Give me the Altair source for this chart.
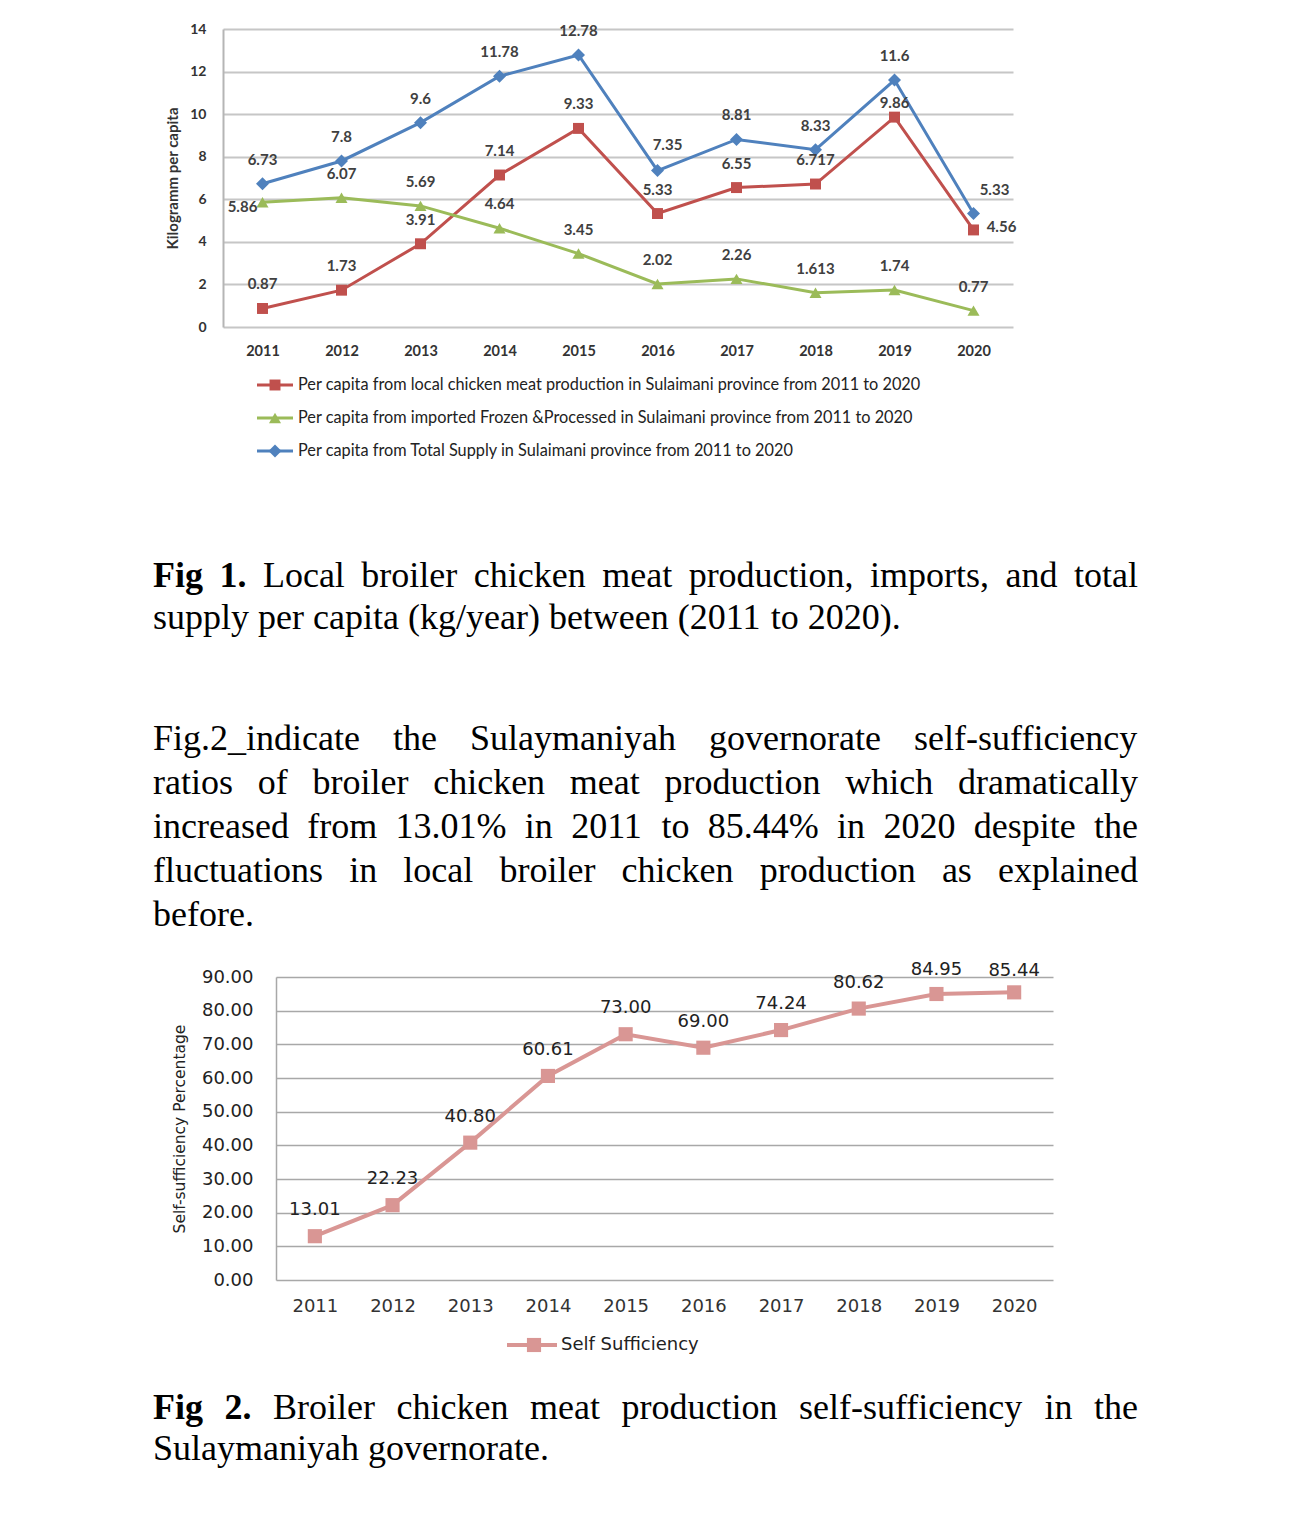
import altair as alt
import pandas as pd

# ---------------- data ----------------
years = [2011, 2012, 2013, 2014, 2015, 2016, 2017, 2018, 2019, 2020]
local_prod = [0.87, 1.73, 3.91, 7.14, 9.33, 5.33, 6.55, 6.717, 9.86, 4.56]
imported = [5.86, 6.07, 5.69, 4.64, 3.45, 2.02, 2.26, 1.613, 1.74, 0.77]
total_supply = [6.73, 7.8, 9.6, 11.78, 12.78, 7.35, 8.81, 8.33, 11.6, 5.33]
self_suff = [13.01, 22.23, 40.80, 60.61, 73.00, 69.00, 74.24, 80.62, 84.95, 85.44]

series_keys = ["local", "imported", "total"]
series_names = [
    "Per capita from local chicken meat production in Sulaimani province from 2011 to 2020",
    "Per capita from imported Frozen &Processed in Sulaimani province from 2011 to 2020",
    "Per capita from Total Supply in Sulaimani province from 2011 to 2020",
]
y1_ticks = [0, 2, 4, 6, 8, 10, 12, 14]
y2_ticks = [0, 10, 20, 30, 40, 50, 60, 70, 80, 90]

caption1 = ["Fig 1. Local broiler chicken meat production, imports, and total",
            "supply per capita (kg/year) between (2011 to 2020)."]
paragraph = [
    "Fig.2_indicate the Sulaymaniyah governorate self-sufficiency",
    "ratios of broiler chicken meat production which dramatically",
    "increased from 13.01% in 2011 to 85.44% in 2020 despite the",
    "fluctuations in local broiler chicken production as explained",
    "before.",
]
caption2 = ["Fig 2. Broiler chicken meat production self-sufficiency in the",
            "Sulaymaniyah governorate."]
legend2_name = "Self Sufficiency"

# ---------------- styles ----------------
colors = ["#C0504D", "#9BBB59", "#4F81BD"]
shapes = ["square", "triangle-up", "diamond"]
sizes = [120, 170, 130]
pink = "#D99694"
W1, H1 = 790, 298
W2, H2 = 777, 303
SH = 53            # figure 1 sits this many pixels left of figure 2
SERIF = "Liberation Serif"
FS = 36            # body text size
TEXT_X0 = -123     # left edge of the text column, relative to the plot origins
TEXT_W = 985       # width of the justified text column

# Times / Liberation Serif advance widths (per 1000 em), used to justify lines
_w = {" ": 250, "!": 333, "%": 833, "&": 778, "(": 333, ")": 333, ",": 250, "-": 333,
      ".": 250, "/": 278, "_": 500, ":": 278}
_w.update({d: 500 for d in "0123456789"})
_w.update(dict(zip("ABCDEFGHIJKLMNOPQRSTUVWXYZ",
                   [722, 667, 667, 722, 611, 556, 722, 722, 333, 389, 722, 611, 889,
                    722, 722, 556, 722, 667, 556, 611, 722, 722, 944, 722, 722, 611])))
_w.update(dict(zip("abcdefghijklmnopqrstuvwxyz",
                   [444, 500, 444, 500, 444, 333, 500, 500, 278, 278, 500, 278, 778,
                    500, 500, 500, 500, 333, 389, 278, 500, 500, 722, 500, 500, 444])))
_wb = dict(_w)
_wb.update({"F": 611, "i": 278, "g": 500, "1": 500, "2": 500, ".": 250})


def tw(s, bold=False):
    tab = _wb if bold else _w
    return sum(tab.get(c, 500) for c in s) / 1000.0 * FS


PX = alt.Scale(domain=[0, 1000], range=[0, 1000], zero=False, nice=False)


def text_row(line, y, justify, n_bold=0):
    words = line.split(" ")
    bolds = [i < n_bold for i in range(len(words))]
    widths = [tw(t, b) for t, b in zip(words, bolds)]
    if justify and len(words) > 1:
        gap = (TEXT_W - sum(widths)) / (len(words) - 1)
    else:
        gap = tw(" ")
    xs, x = [], TEXT_X0
    for w in widths:
        xs.append(x)
        x += w + gap
    layers = []
    for bold in (False, True):
        sel = [(t, xx) for t, b, xx in zip(words, bolds, xs) if b == bold]
        if not sel:
            continue
        df = pd.DataFrame({"w": [t for t, _ in sel], "px": [xx for _, xx in sel]})
        layers.append(alt.Chart(df).mark_text(
            align="left", baseline="alphabetic", font=SERIF, fontSize=FS,
            fontWeight="bold" if bold else "normal", color="#000000"
        ).encode(x=alt.X("px:Q", scale=PX, axis=None), y=alt.value(y), text="w:N"))
    return layers


rows = []
for key, vals in zip(series_keys, [local_prod, imported, total_supply]):
    for yr, v in zip(years, vals):
        rows.append({"year": yr, "series": key, "value": v, "label": f"{v:g}"})
df1 = pd.DataFrame(rows)
df2 = pd.DataFrame({"year": years, "value": self_suff,
                    "label": [f"{v:.2f}" for v in self_suff]})

# ---------------- chart 1 ----------------
x1 = alt.X("year:O", title=None, scale=alt.Scale(range=[-SH, W1 - SH]),
           axis=alt.Axis(labelAngle=0, labelFont="Lato", labelFontWeight="bold",
                         labelFontSize=14.5, labelColor="#333333", ticks=False, tickSize=0,
                         domain=False, grid=False, labelPadding=17))
y1 = alt.Y("value:Q", scale=alt.Scale(domain=[0, 14], nice=False),
           axis=alt.Axis(values=y1_ticks, title="Kilogramm per capita", grid=True,
                         gridColor="#c6c6c6", gridWidth=2, domain=True, offset=SH,
                         domainColor="#b5b5b5", domainWidth=2, ticks=False, tickSize=0,
                         labelPadding=17, labelFont="Lato", labelFontWeight="bold",
                         labelFontSize=14, labelColor="#333333", titleFont="Lato",
                         titleFontWeight="bold", titleFontSize=15, titleColor="#333333",
                         titlePadding=9))
col1 = alt.Color("series:N", scale=alt.Scale(domain=series_keys, range=colors), legend=None)
shp1 = alt.Shape("series:N", scale=alt.Scale(domain=series_keys, range=shapes), legend=None)
siz1 = alt.Size("series:N", scale=alt.Scale(domain=series_keys, range=sizes), legend=None)

base1 = alt.Chart(df1).encode(x=x1, y=y1, color=col1)
lines1 = base1.mark_line(strokeWidth=3)
pts1 = base1.mark_point(filled=True, opacity=1).encode(shape=shp1, size=siz1)

# label offsets (style) : (series, year, dx, dy)
exceptions1 = [("total", 2016, 10, -26), ("total", 2020, 21, -24),
               ("local", 2019, 0, -14), ("local", 2020, 28, -3),
               ("imported", 2011, -20, 5)]
lab_style = dict(font="Lato", fontWeight="bold", fontSize=15, color="#404040",
                 baseline="middle", align="center")
lab_base = alt.Chart(df1).encode(x=x1, y=y1, text="label:N")
exc_expr = " || ".join(f"(datum.series=='{s}' && datum.year=={yr})" for s, yr, _, _ in exceptions1)
label_layers = [lab_base.transform_filter(f"!({exc_expr})").mark_text(dy=-24, **lab_style)]
for s, yr, dx, dy in exceptions1:
    label_layers.append(
        lab_base.transform_filter(f"datum.series=='{s}' && datum.year=={yr}")
        .mark_text(dx=dx, dy=dy, **lab_style))

main1 = alt.layer(lines1, pts1, *label_layers)

leg_df = pd.DataFrame({"series": series_keys, "name": series_names})
leg_y = alt.Y("series:N", scale=alt.Scale(type="point", domain=series_keys,
                                          range=[356, 422], padding=0), axis=None)
leg_rule = alt.Chart(leg_df).mark_rule(strokeWidth=3).encode(
    x=alt.value(34 - SH), x2=alt.value(70 - SH), y=leg_y, color=col1)
leg_pt = alt.Chart(leg_df).mark_point(filled=True, opacity=1).encode(
    x=alt.value(52 - SH), y=leg_y, color=col1, shape=shp1, size=siz1)
leg_txt = alt.Chart(leg_df).mark_text(align="left", baseline="middle", font="Lato",
                                      fontSize=16.3, color="#222222").encode(
    x=alt.value(75 - SH), y=leg_y, text="name:N")
legend1 = alt.layer(leg_rule, leg_pt, leg_txt)

texts1 = []
texts1 += text_row(caption1[0], 558, True, n_bold=2)
texts1 += text_row(caption1[1], 600, False)
for i, ln in enumerate(paragraph):
    texts1 += text_row(ln, 721 + 44 * i, i < len(paragraph) - 1)

chart1 = alt.layer(main1, legend1, *texts1).resolve_scale(
    x="independent", y="independent").properties(width=W1, height=H1)

# ---------------- chart 2 ----------------
x2 = alt.X("year:O", title=None,
           axis=alt.Axis(labelAngle=0, labelFont="DejaVu Sans", labelFontSize=18,
                         labelColor="#333333", ticks=False, tickSize=0, domain=False,
                         grid=False, labelPadding=17))
y2 = alt.Y("value:Q", scale=alt.Scale(domain=[0, 90], nice=False),
           axis=alt.Axis(values=y2_ticks, format=".2f", title="Self-sufficiency Percentage",
                         grid=True, gridColor="#a8a8a8", gridWidth=1.5, domain=True,
                         domainColor="#a8a8a8", domainWidth=1.5, ticks=False, tickSize=0,
                         labelPadding=23, labelFont="DejaVu Sans", labelFontSize=18,
                         labelColor="#222222", titleFont="DejaVu Sans",
                         titleFontWeight="normal", titleFontSize=15.5,
                         titleColor="#222222", titlePadding=14))
base2 = alt.Chart(df2).encode(x=x2, y=y2)
line2 = base2.mark_line(strokeWidth=4, color=pink)
pts2 = base2.mark_point(shape="square", filled=True, opacity=1, size=200, color=pink)

exceptions2 = [(2019, 0, -24), (2020, 0, -21)]
lab2_style = dict(font="DejaVu Sans", fontSize=18, color="#222222",
                  baseline="middle", align="center")
lab2_base = alt.Chart(df2).encode(x=x2, y=y2, text="label:N")
exc2_expr = " || ".join(f"datum.year=={yr}" for yr, _, _ in exceptions2)
label2_layers = [lab2_base.transform_filter(f"!({exc2_expr})").mark_text(dy=-26, **lab2_style)]
for yr, dx, dy in exceptions2:
    label2_layers.append(lab2_base.transform_filter(f"datum.year=={yr}")
                         .mark_text(dx=dx, dy=dy, **lab2_style))

leg2_df = pd.DataFrame({"name": [legend2_name]})
leg2_rule = alt.Chart(leg2_df).mark_rule(strokeWidth=4, color=pink).encode(
    x=alt.value(231), x2=alt.value(281), y=alt.value(368))
leg2_pt = alt.Chart(leg2_df).mark_point(shape="square", filled=True, opacity=1,
                                        size=200, color=pink).encode(
    x=alt.value(258), y=alt.value(368))
leg2_txt = alt.Chart(leg2_df).mark_text(align="left", baseline="middle",
                                        font="DejaVu Sans", fontSize=18,
                                        color="#222222").encode(
    x=alt.value(285), y=alt.value(368), text="name:N")

main2 = alt.layer(line2, pts2, *label2_layers, leg2_rule, leg2_pt, leg2_txt)

texts2 = []
texts2 += text_row(caption2[0], 442, True, n_bold=2)
texts2 += text_row(caption2[1], 483, False)

chart2 = alt.layer(main2, *texts2).resolve_scale(x="independent").properties(
    width=W2, height=H2)

chart = alt.vconcat(chart1, chart2, spacing=26).properties(
    padding={"left": 144, "top": 13, "right": 5, "bottom": 5}
).configure_view(stroke="transparent")

chart.save("out.html", embed_options={"renderer": "svg", "actions": False})
